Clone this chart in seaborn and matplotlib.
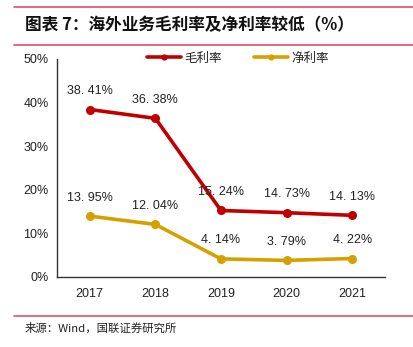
import matplotlib
matplotlib.use("Agg")
import matplotlib.pyplot as plt
import seaborn as sns
import pandas as pd
from matplotlib.lines import Line2D

years = ["2017", "2018", "2019", "2020", "2021"]
gross = [38.41, 36.38, 15.24, 14.73, 14.13]
net = [13.95, 12.04, 4.14, 3.79, 4.22]
series_names = ["毛利率", "净利率"]
yticks = [0, 10, 20, 30, 40, 50]

sns.set_theme(style="white")
plt.rcParams['font.family'] = ['Noto Sans CJK SC', 'DejaVu Sans']

df = pd.DataFrame({
    "year": years * 2,
    "value": gross + net,
    "series": [series_names[0]] * 5 + [series_names[1]] * 5,
})
palette = {series_names[0]: "#C00000", series_names[1]: "#D6A100"}
num_font = "Liberation Sans"

fig = plt.figure(figsize=(4.13, 3.47), dpi=100)
ax = fig.add_axes([0.138, 0.202, 0.794, 0.628])
sns.lineplot(data=df, x="year", y="value", hue="series", palette=palette,
             marker="o", markersize=6.5, markeredgewidth=0, linewidth=2.6,
             sort=False, ax=ax, legend=False)

ax.set_xlim(-0.5, 4.5)
ax.set_ylim(0, 50)
ax.set_yticks(yticks)
ax.set_yticklabels([f"{v}%" for v in yticks], fontsize=9, family=num_font)
ax.set_xticks(range(len(years)))
ax.set_xticklabels(years, fontsize=9, family=num_font)
ax.set_xticks([i - 0.5 for i in range(len(years) + 1)], minor=True)
ax.tick_params(axis="x", which="major", length=0, pad=8, colors="#222222")
ax.tick_params(axis="x", which="minor", length=4, width=1, color="#333333", direction="out")
ax.tick_params(axis="y", length=4, width=1, color="#333333", direction="out", pad=2, colors="#222222")
ax.set_xlabel("")
ax.set_ylabel("")
for s in ["top", "right"]:
    ax.spines[s].set_visible(False)
for s in ["left", "bottom"]:
    ax.spines[s].set_color("#333333")
    ax.spines[s].set_linewidth(1)

for vals in (gross, net):
    for i, v in enumerate(vals):
        ax.annotate(f"{v:.2f}%".replace(".", ". "), (i, v), xytext=(0, 9),
                    textcoords="offset points", ha="center", va="bottom",
                    fontsize=9, color="#222222", family=num_font)

handles = [Line2D([], [], color=palette[n], marker="o", markersize=4.5, linewidth=2.6,
                  markeredgewidth=0) for n in series_names]
fig.legend(handles, series_names, loc="center left", bbox_to_anchor=(0.357, 0.832), ncol=2,
           frameon=False, fontsize=9, handlelength=2.7, columnspacing=2.6,
           handletextpad=0.25, borderpad=0, borderaxespad=0)

# header / footer rules
line_col = "#E0506A"
fig.add_artist(Line2D([14 / 413, 1], [1 - 7 / 347] * 2, color=line_col, linewidth=1.2))
fig.add_artist(Line2D([14 / 413, 1], [1 - 45 / 347] * 2, color=line_col, linewidth=1.2))
fig.add_artist(Line2D([14 / 413, 1], [1 - 316 / 347] * 2, color=line_col, linewidth=1.2))

fig.text(25 / 413, 1 - 25 / 347, "图表 7：海外业务毛利率及净利率较低（%）", fontsize=12,
         fontweight="bold", ha="left", va="center", color="#111111")
fig.text(25 / 413, 1 - 328 / 347, "来源：Wind，国联证券研究所", fontsize=8.2,
         ha="left", va="center", color="#222222")

fig.savefig("out.png", dpi=100)
